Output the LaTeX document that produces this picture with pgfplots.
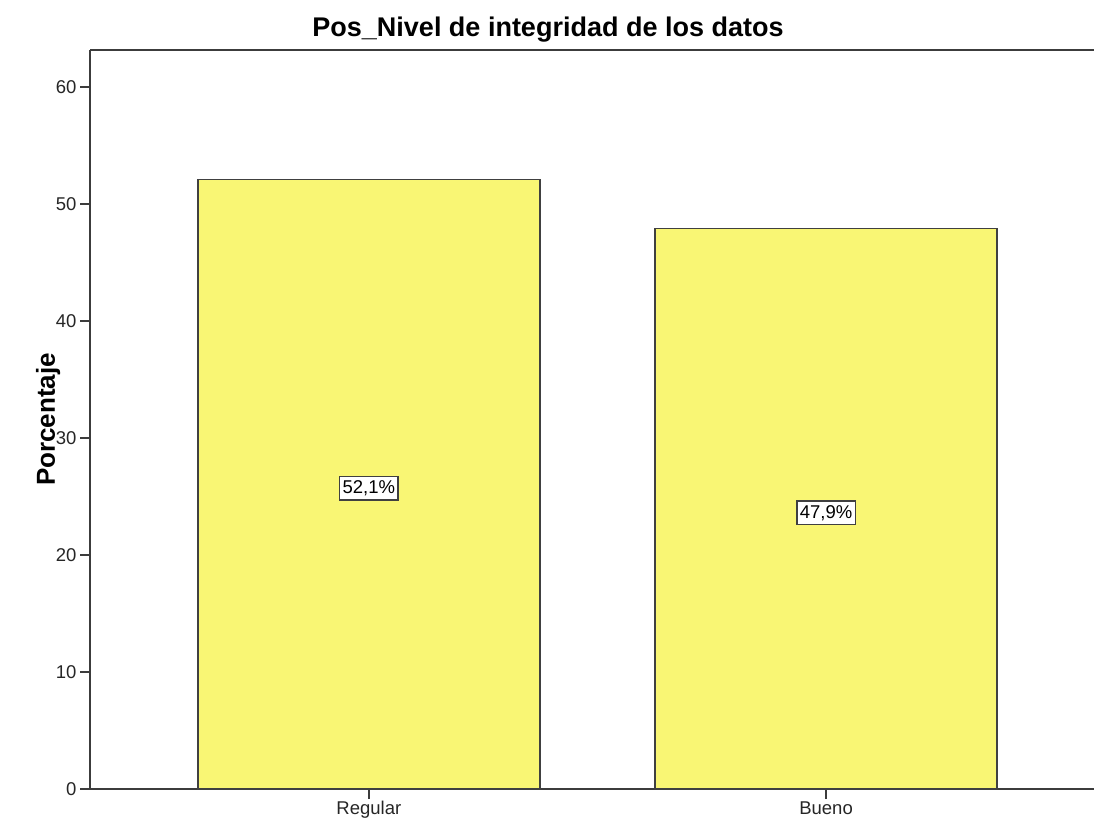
\documentclass[border=0pt]{standalone}
\usepackage{pgfplots}
\pgfplotsset{compat=1.18}
\usepackage{fontspec}
\setmainfont{Liberation Sans}
\definecolor{baryellow}{RGB}{249,246,116}
\definecolor{axisgray}{RGB}{60,60,60}
\begin{document}
\begin{tikzpicture}
\useasboundingbox (0pt,0pt) rectangle (1094pt,825pt);
\begin{axis}[
  at={(90pt,36pt)}, anchor=south west,
  scale only axis,
  width=1004pt, height=739pt,
  xmin=-0.61, xmax=1.586,
  ymin=0, ymax=63.16,
  axis x line*=bottom, axis y line*=left,
  axis line style={axisgray, line width=1.6pt, -},
  xtick={0,1}, xticklabels={Regular,Bueno},
  ytick={0,10,20,30,40,50,60},
  tick align=outside,
  major tick length=10pt,
  tick style={axisgray, line width=1.6pt},
  /pgf/number format/assume math mode=true,
  ticklabel style={font=\fontsize{18.5}{20}\selectfont, text=black!85},
  xticklabel style={text height=13pt, text depth=4pt, yshift=1pt},
  ylabel={\bfseries Porcentaje},
  ylabel style={font=\fontsize{26}{28}\selectfont, at={(axis description cs:-0.0418,0.5)}, anchor=center},
  clip=false,
]
\draw[axisgray, line width=1.6pt] (rel axis cs:0,1) -- (rel axis cs:1,1);
\addplot[ybar, bar width=342pt, fill=baryellow, draw=black!75, line width=1.6pt]
  coordinates {(0,52.1) (1,47.9)};
\addplot[draw=none, mark=none, nodes near coords, point meta=explicit symbolic,
  every node near coord/.style={anchor=center, fill=white, draw=black!75, line width=1.6pt, inner xsep=3pt, inner ysep=4pt, font=\fontsize{18.5}{20}\selectfont}]
  coordinates {(0,25.7) [52,1\%] (1,23.6) [47,9\%]};
\end{axis}
\node[anchor=base, font=\bfseries\fontsize{27}{30}\selectfont] at (548pt,788pt) {Pos\_Nivel de integridad de los datos};
\end{tikzpicture}
\end{document}
